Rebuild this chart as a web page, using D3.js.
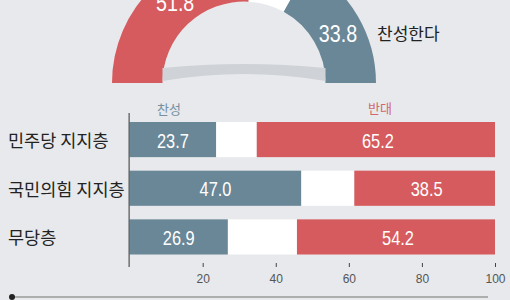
<!DOCTYPE html>
<html>
<head>
<meta charset="utf-8">
<script src="https://cdn.jsdelivr.net/npm/d3@7"></script>
<style>
  body { margin: 0; background: #e7e9ec; }
  svg { display: block; }
</style>
</head>
<body>
<div id="chart"></div>
<script>
// overall result (half donut): 반대 / 무응답 / 찬성
const overallKeys = ["반대", "모름", "찬성"];
const overallValues = [51.8, 14.4, 33.8];

// by party support
const groups = ["민주당 지지층", "국민의힘 지지층", "무당층"];
const agreeValues = [23.7, 47.0, 26.9];
const opposeValues = [65.2, 38.5, 54.2];
const tickValues = [20, 40, 60, 80, 100];

const RED = "#d65b5e";
const BLUE = "#6a8798";
const BG = "#e7e9ec";
const numFont = "'Liberation Sans Narrow', 'Liberation Sans', Arial, sans-serif";
const krFont = "'Noto Sans CJK KR', 'Noto Sans', sans-serif";
const squeeze = 0.82;   // numbers are set in a condensed face

const width = 510, height = 300;

const svg = d3.select("#chart").append("svg")
              .attr("width", width)
              .attr("height", height);

svg.append("rect").attr("width", width).attr("height", height).attr("fill", BG);

// ---- half donut ----
const cx = 244, cy = 83, rOuter = 132, rInner = 81.5;
const donut = svg.append("g").attr("transform", `translate(${cx},${cy})`);

const pie = d3.pie().sort(null)
              .startAngle(-Math.PI / 2)
              .endAngle(Math.PI / 2);
const arc = d3.arc().innerRadius(rInner).outerRadius(rOuter);
const arcColor = d3.scaleOrdinal().domain(overallKeys).range([RED, "#ffffff", BLUE]);

const slices = pie(overallValues);

donut.selectAll("path.slice")
     .data(slices)
     .join("path")
     .attr("class", "slice")
     .attr("d", arc)
     .attr("fill", (d, i) => arcColor(overallKeys[i]));

// shading band inside the dome
donut.append("path")
     .attr("d", `M${-rInner},${-15} Q0,${-23} ${rInner},${-15} L${rInner},${-2} Q0,${-16} ${-rInner},${-2} Z`)
     .attr("fill", "#cfd2d6");

donut.selectAll("text.val")
     .data(slices.filter((d, i) => overallKeys[i] != "모름"))
     .join("text")
     .attr("class", "val")
     .attr("transform", d => {
         let a = (d.startAngle + d.endAngle) / 2 + 0.05;
         let r = 106;
         return `translate(${r * Math.sin(a)},${-r * Math.cos(a)}) scale(${squeeze},1)`;
     })
     .attr("text-anchor", "middle")
     .attr("dominant-baseline", "central")
     .attr("fill", "white")
     .style("font-family", numFont)
     .style("font-size", "24px")
     .text(d => d.data.toFixed(1));

svg.append("text")
   .attr("x", 377).attr("y", 32)
   .attr("dominant-baseline", "central")
   .attr("fill", "#222")
   .style("font-family", krFont)
   .style("font-size", "17px")
   .text("찬성한다");

// ---- stacked bars ----
const x = d3.scaleLinear().domain([0, 100]).range([129.6, 495]);
const y = d3.scaleBand().domain(groups).range([122, 254.5]).paddingInner(0.278);

const rows = svg.selectAll("g.row")
                .data(groups)
                .join("g")
                .attr("class", "row")
                .attr("transform", d => `translate(0,${y(d)})`);

rows.append("rect")
    .attr("x", x(0))
    .attr("width", (d, i) => x(agreeValues[i]) - x(0))
    .attr("height", y.bandwidth())
    .attr("fill", BLUE);

rows.append("rect")
    .attr("x", (d, i) => x(agreeValues[i]))
    .attr("width", (d, i) => x(100 - opposeValues[i]) - x(agreeValues[i]))
    .attr("height", y.bandwidth())
    .attr("fill", "white");

rows.append("rect")
    .attr("x", (d, i) => x(100 - opposeValues[i]))
    .attr("width", (d, i) => x(100) - x(100 - opposeValues[i]))
    .attr("height", y.bandwidth())
    .attr("fill", RED);

rows.append("text")
    .attr("transform", (d, i) => `translate(${(x(0) + x(agreeValues[i])) / 2},${y.bandwidth() / 2 + 1}) scale(${squeeze},1)`)
    .attr("text-anchor", "middle")
    .attr("dominant-baseline", "central")
    .attr("fill", "white")
    .style("font-family", numFont)
    .style("font-size", "20px")
    .text((d, i) => agreeValues[i].toFixed(1));

rows.append("text")
    .attr("transform", (d, i) => `translate(${(x(100 - opposeValues[i]) + x(100)) / 2 + 2},${y.bandwidth() / 2 + 1}) scale(${squeeze},1)`)
    .attr("text-anchor", "middle")
    .attr("dominant-baseline", "central")
    .attr("fill", "white")
    .style("font-family", numFont)
    .style("font-size", "20px")
    .text((d, i) => opposeValues[i].toFixed(1));

rows.append("text")
    .attr("x", 8)
    .attr("y", y.bandwidth() / 2)
    .attr("dominant-baseline", "central")
    .attr("fill", "#222")
    .style("font-family", krFont)
    .style("font-size", "17.5px")
    .text(d => d);

// legend labels above bars
svg.append("text")
   .attr("x", 169).attr("y", 108)
   .attr("text-anchor", "middle")
   .attr("dominant-baseline", "central")
   .attr("fill", "#7590a0")
   .style("font-family", krFont)
   .style("font-size", "13px")
   .text("찬성");

svg.append("text")
   .attr("x", 380).attr("y", 107)
   .attr("text-anchor", "middle")
   .attr("dominant-baseline", "central")
   .attr("fill", "#d2686b")
   .style("font-family", krFont)
   .style("font-size", "13px")
   .text("반대");

// vertical axis line
svg.append("line")
   .attr("x1", x(0) - 0.5).attr("x2", x(0) - 0.5)
   .attr("y1", 113).attr("y2", 267)
   .attr("stroke", "#333")
   .attr("stroke-width", 1);

// x axis ticks
const xAxis = svg.append("g")
                 .attr("transform", "translate(0,263)")
                 .call(d3.axisBottom(x).tickValues(tickValues).tickSize(4).tickPadding(7));
xAxis.select(".domain").remove();
xAxis.selectAll(".tick line").attr("stroke", "#444");
xAxis.selectAll(".tick text")
     .attr("fill", "#555")
     .style("font-family", "'Liberation Sans', Arial, sans-serif")
     .style("font-size", "12px");

// bottom rule with dot
svg.append("line")
   .attr("x1", 12).attr("x2", 488)
   .attr("y1", 297).attr("y2", 297)
   .attr("stroke", "#999")
   .attr("stroke-width", 1.5);
svg.append("circle")
   .attr("cx", 12).attr("cy", 297).attr("r", 3)
   .attr("fill", "#222");
</script>
</body>
</html>
